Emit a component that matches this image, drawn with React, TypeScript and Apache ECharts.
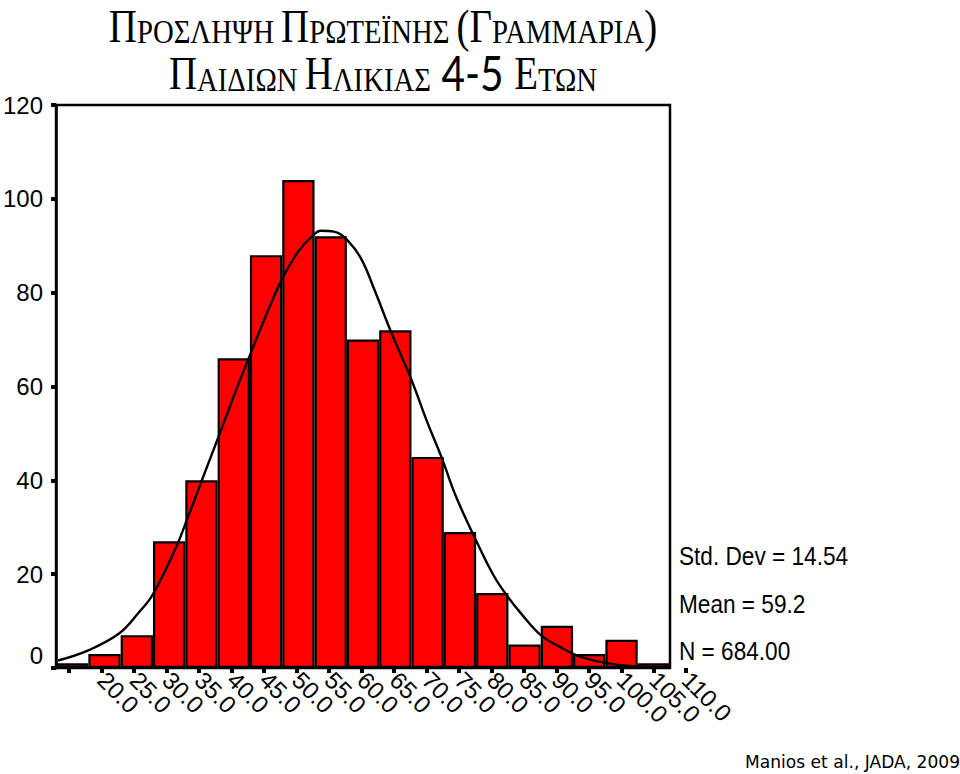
import React, { useEffect, useRef } from "react";
import * as echarts from "echarts";

// Histogram bins (midpoints) and frequencies
const binMids = ["15.0", "20.0", "25.0", "30.0", "35.0", "40.0", "45.0", "50.0", "55.0", "60.0", "65.0", "70.0", "75.0", "80.0", "85.0", "90.0", "95.0", "100.0", "105.0"];
const counts = [1, 3, 7, 27, 40, 66, 88, 104, 92, 70, 72, 45, 29, 16, 5, 9, 3, 6, 1];

// Tick labels shown under the axis (first tick has no label; 110.0 sits past the frame)
const xTickLabels = ["", "20.0", "25.0", "30.0", "35.0", "40.0", "45.0", "50.0", "55.0", "60.0", "65.0", "70.0", "75.0", "80.0", "85.0", "90.0", "95.0", "100.0", "105.0", "110.0"];
const yTicks = { min: 0, max: 120, interval: 20 };

// Fitted normal curve
const curveX = [12.8, 17.4, 22.3, 25.4, 27.4, 31.0, 33.0, 35.2, 37.7, 40.3, 42.6, 45.4, 47.5, 50.0, 52.1, 53.5, 55.5, 57.7, 59.8, 61.8, 64.4, 67.5, 70.0, 72.1, 74.4, 77.7, 80.3, 82.4, 84.4, 87.5, 90.6, 93.6, 96.7, 99.8, 102.8, 105.0, 107.3];
const curveY = [1.6, 3.7, 7.4, 12.0, 15.5, 25.5, 32.5, 40.5, 49.5, 59.0, 67.0, 76.5, 83.0, 88.8, 92.0, 93.2, 93.0, 91.0, 87.0, 80.5, 71.4, 61.4, 52.2, 45.1, 36.5, 26.6, 19.5, 15.2, 11.7, 7.0, 4.4, 2.4, 1.3, 0.6, 0.3, 0.15, 0.1];

const statsLines = ["Std. Dev = 14.54", "Mean = 59.2", "N = 684.00"];
const titleLine1 = "{b|Π}{s|ΡΟΣΛΗΨΗ} {b|Π}{s|ΡΩΤΕΪΝΗΣ} {b|(Γ}{s|ΡΑΜΜΑΡΙΑ}{b|)}";
const titleLine2 = "{b|Π}{s|ΑΙΔΙΩΝ} {b|Η}{s|ΛΙΚΙΑΣ} {n|4-5} {b|Ε}{s|ΤΩΝ}";
const citation = "Manios et al., JADA, 2009";

const SANS = "'Liberation Sans', Arial, sans-serif";
const SERIF = "'Liberation Serif', 'Times New Roman', serif";

export default function App() {
  const ref = useRef<HTMLDivElement>(null);

  useEffect(() => {
    if (!ref.current) return;
    const chart = echarts.init(ref.current, undefined, { renderer: "svg" });

    const gridLeft = 53;
    const gridTop = 105;
    const gridW = 617;
    const gridH = 563;
    const binW = gridW / binMids.length;

    const richTitle = {
      b: { fontSize: 46, lineHeight: 46, fontFamily: SERIF, verticalAlign: "bottom", fill: "#000" },
      s: { fontSize: 34, lineHeight: 38, fontFamily: SERIF, verticalAlign: "bottom", fill: "#000" },
      n: { fontSize: 48, lineHeight: 52, fontFamily: "Lato, 'Open Sans', sans-serif", verticalAlign: "bottom", fill: "#000", padding: [0, 4, 0, 4] },
    };

    const option: any = {
      animation: false,
      backgroundColor: "#fff",
      grid: [
        {
          left: gridLeft, top: gridTop, width: gridW, height: gridH,
          show: true, borderColor: "#000", borderWidth: 2.5, backgroundColor: "transparent",
        },
        {
          left: gridLeft, top: gridTop, width: gridW + binW, height: gridH, show: false,
        },
      ],
      xAxis: [
        {
          type: "category", gridIndex: 0, data: binMids,
          axisLine: { show: false }, axisTick: { show: false }, axisLabel: { show: false },
        },
        {
          type: "value", gridIndex: 0, min: 12.5, max: 107.5, show: false,
        },
        {
          type: "category", gridIndex: 1, data: xTickLabels,
          axisLine: { show: false },
          axisTick: { show: true, alignWithLabel: true, interval: 0, length: 5, lineStyle: { color: "#000", width: 4 } },
          axisLabel: { interval: 0, rotate: -45, margin: 8, fontSize: 24, fontFamily: SANS, color: "#000" },
          splitLine: { show: false },
        },
      ],
      yAxis: [
        {
          type: "value", gridIndex: 0, min: yTicks.min, max: yTicks.max, interval: yTicks.interval,
          axisLine: { show: true, lineStyle: { color: "#000", width: 2.5 } },
          axisTick: { show: true, length: 5, lineStyle: { color: "#000", width: 4 } },
          axisLabel: {
            fontSize: 24, fontFamily: SANS, color: "#000", margin: 13,
            formatter: (v: number) => (v === 0 ? "{z|0}" : String(v)),
            rich: { z: { fontSize: 24, fontFamily: SANS, color: "#000", padding: [0, 0, 26, 0] } },
          },
          splitLine: { show: false },
        },
        {
          type: "value", gridIndex: 1, min: yTicks.min, max: yTicks.max, show: false,
        },
      ],
      series: [
        {
          type: "bar", xAxisIndex: 0, yAxisIndex: 0, data: counts,
          barCategoryGap: "0%",
          itemStyle: { color: "#FF0000", borderColor: "#000", borderWidth: 2.2 },
          z: 2,
        },
        {
          type: "line", xAxisIndex: 1, yAxisIndex: 0,
          data: curveX.map((x, i) => [x, curveY[i]]),
          smooth: 0.4, showSymbol: false, symbol: "none",
          lineStyle: { color: "#000", width: 2.4 },
          z: 3,
        },
      ],
      graphic: [
        {
          type: "text", x: 383, y: 49, scaleX: 0.845,
          style: { text: titleLine1, align: "center", verticalAlign: "bottom", fontSize: 34, fontFamily: SERIF, fill: "#000", rich: richTitle },
        },
        {
          type: "text", x: 383, y: 96.5, scaleX: 0.845,
          style: { text: titleLine2, align: "center", verticalAlign: "bottom", fontSize: 34, fontFamily: SERIF, fill: "#000", rich: richTitle },
        },
        ...statsLines.map((t, i) => ({
          type: "text", x: 679, y: 556 + i * 47.5, scaleX: 0.87,
          style: { text: t, align: "left", verticalAlign: "middle", fontSize: 26, fontFamily: SANS, fill: "#000" },
        })),
        {
          type: "text", x: 745, y: 762, scaleX: 0.95,
          style: { text: citation, align: "left", verticalAlign: "middle", fontSize: 18, fontFamily: "'DejaVu Sans', sans-serif", fill: "#000" },
        },
      ],
    };

    chart.setOption(option);
    return () => chart.dispose();
  }, []);

  return <div ref={ref} style={{ position: "absolute", left: 0, top: 0, width: 960, height: 774 }} />;
}
